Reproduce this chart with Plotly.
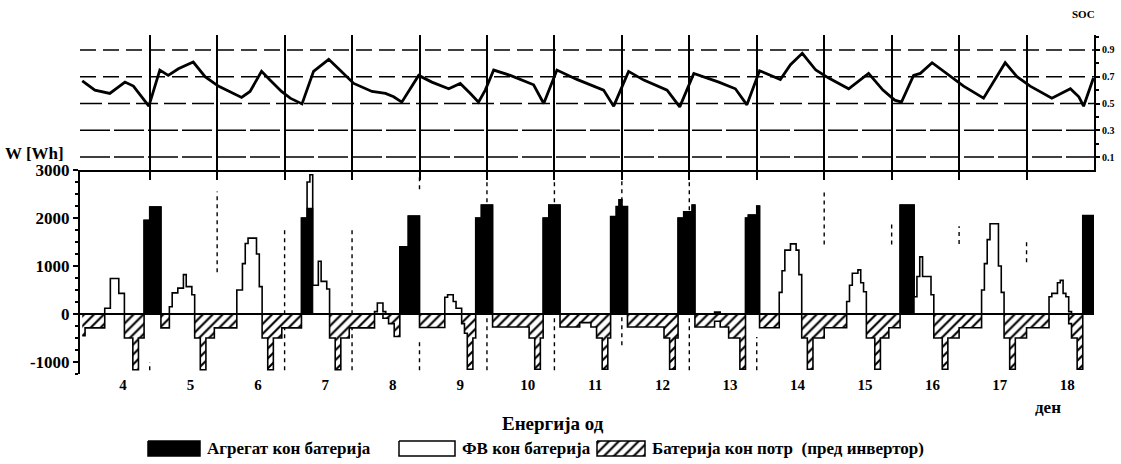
import numpy as np
import plotly.graph_objects as go

# ---------------- data ----------------
days = list(range(4, 19))
day_labels = [str(d) for d in days]
N_HOURS = 24 * len(days)

# (day, start hour, end hour, value in Wh)
gen_segments = [
    (4, 22, 24, 1950), (5, 0, 4, 2230),
    (7, 6, 8, 2000), (7, 8, 10, 2200),
    (8, 17, 20, 1400), (8, 20, 24, 2040),
    (9, 20, 22, 2000), (9, 22, 24, 2270), (10, 0, 2, 2270),
    (10, 20, 22, 2000), (10, 22, 24, 2270), (11, 0, 2, 2270),
    (11, 20, 22, 2030), (11, 22, 23, 2240), (11, 23, 24, 2380), (12, 0, 2, 2240),
    (12, 20, 22, 2000), (12, 22, 24, 2130), (13, 0, 1, 2130), (13, 1, 2, 2270),
    (13, 20, 21, 2000), (13, 21, 24, 2060), (14, 0, 1, 2250),
    (16, 3, 8, 2270),
    (18, 20, 24, 2050),
]
pv_segments = [
    (4, 8, 10, 120), (4, 10, 13, 740), (4, 13, 15, 430),
    (5, 7, 8, 150), (5, 8, 10, 440), (5, 10, 12, 540), (5, 12, 13, 820), (5, 13, 15, 570), (5, 15, 16, 400),
    (6, 7, 9, 500), (6, 9, 10, 1050), (6, 10, 11, 1470), (6, 11, 14, 1580), (6, 14, 15, 1250), (6, 15, 16, 570),
    (7, 8, 9, 550), (7, 9, 10, 700), (7, 10, 12, 600), (7, 12, 13, 1100), (7, 13, 15, 680), (7, 15, 16, 520),
    (8, 8, 9, 50), (8, 9, 11, 230), (8, 11, 12, 50),
    (9, 9, 10, 350), (9, 10, 12, 400), (9, 12, 13, 260), (9, 13, 15, 120),
    (13, 9, 11, 40),
    (14, 8, 9, 450), (14, 9, 10, 900), (14, 10, 12, 1330), (14, 12, 14, 1460), (14, 14, 15, 1330), (14, 15, 16, 820),
    (15, 8, 9, 260), (15, 9, 10, 600), (15, 10, 12, 850), (15, 12, 13, 920), (15, 13, 14, 650), (15, 14, 15, 465),
    (16, 8, 9, 360), (16, 9, 10, 780), (16, 10, 11, 1190), (16, 11, 14, 780), (16, 14, 15, 400),
    (17, 8, 9, 500), (17, 9, 10, 1050), (17, 10, 11, 1550), (17, 11, 14, 1880), (17, 14, 15, 1000), (17, 15, 16, 450),
    (18, 8, 9, 360), (18, 9, 11, 430), (18, 11, 12, 650), (18, 12, 13, 700), (18, 13, 14, 430), (18, 14, 15, 360), (18, 15, 16, 50),
]
load_segments = [
    (4, 0, 1, -450), (4, 1, 8, -290), (4, 15, 18, -500), (4, 18, 20, -1160), (4, 20, 22, -500),
    (5, 4, 7, -290), (5, 16, 18, -500), (5, 18, 20, -1160), (5, 20, 23, -500), (5, 23, 24, -290),
    (6, 0, 7, -290), (6, 16, 18, -500), (6, 18, 20, -1160), (6, 20, 23, -500), (6, 23, 24, -290),
    (7, 0, 6, -290), (7, 16, 18, -500), (7, 18, 20, -1160), (7, 20, 23, -500), (7, 23, 24, -290),
    (8, 0, 8, -290), (8, 11, 13, -90), (8, 13, 15, -200), (8, 15, 17, -470),
    (9, 0, 9, -280), (9, 15, 16, -200), (9, 16, 17, -400), (9, 17, 19, -1150), (9, 19, 20, -500),
    (10, 2, 15, -270), (10, 15, 17, -500), (10, 17, 19, -1150), (10, 19, 20, -500),
    (11, 2, 9, -270), (11, 9, 13, -180), (11, 13, 15, -270), (11, 15, 17, -500), (11, 17, 19, -1150), (11, 19, 20, -500),
    (12, 2, 15, -270), (12, 15, 17, -500), (12, 17, 19, -1150), (12, 19, 20, -500),
    (13, 2, 9, -270), (13, 9, 11, -150), (13, 11, 14, -270), (13, 14, 18, -500), (13, 18, 20, -1150),
    (14, 1, 8, -285), (14, 16, 18, -500), (14, 18, 20, -1150), (14, 20, 24, -500),
    (15, 0, 8, -285), (15, 15, 18, -500), (15, 18, 20, -1150), (15, 20, 23, -500), (15, 23, 24, -285),
    (16, 0, 3, -285), (16, 15, 18, -500), (16, 18, 20, -1150), (16, 20, 24, -500),
    (17, 0, 8, -285), (17, 16, 18, -500), (17, 18, 20, -1150), (17, 20, 24, -500),
    (18, 0, 8, -285), (18, 15, 16, -200), (18, 16, 18, -500), (18, 18, 20, -1150),
]

# battery state of charge, hours counted from day 4 00:00
soc_hours = [0, 4.5, 9.8, 15.2, 18.2, 21.7, 23.7, 25.3, 27.6, 30.6, 34.2, 39.5, 43.7, 48.4,
             56.7, 59.7, 63.8, 66.8, 70.9, 74, 78.2, 82.3, 87.7, 91.2, 96.6, 103.1, 107.9,
             110.8, 113.7, 119.7, 124.4, 130.4, 134.5, 138.1, 141, 143.4, 146.4, 152.3,
             160.6, 164.2, 168.9, 176, 185.5, 189.1, 194.4, 199.8, 208.1, 212.6, 217.6,
             226.5, 232.4, 236.5, 241, 248.4, 252, 256.2, 261, 265.6, 272.7, 279.8, 284.9,
             289.1, 291.5, 295.8, 298.2, 302.4, 308.9, 313.6, 320.7, 328.4, 332.6, 337.3,
             345, 351.6, 354.6, 356.3, 359.8]
soc_values = [0.67, 0.60, 0.575, 0.66, 0.63, 0.53, 0.48, 0.59, 0.75, 0.71, 0.76, 0.81, 0.70, 0.63,
              0.545, 0.59, 0.74, 0.675, 0.59, 0.54, 0.497, 0.74, 0.83, 0.76, 0.65, 0.59, 0.575,
              0.55, 0.51, 0.71, 0.66, 0.61, 0.65, 0.575, 0.51, 0.60, 0.75, 0.71,
              0.64, 0.50, 0.75, 0.68, 0.60, 0.48, 0.74, 0.675, 0.60, 0.475, 0.725,
              0.66, 0.61, 0.49, 0.745, 0.68, 0.79, 0.875, 0.75, 0.69, 0.61, 0.725, 0.60,
              0.525, 0.51, 0.71, 0.725, 0.805, 0.70, 0.63, 0.54, 0.805, 0.70, 0.63,
              0.54, 0.61, 0.55, 0.48, 0.69]

soc_ticks = [0.1, 0.3, 0.5, 0.7, 0.9]
soc_ticktext = ["0.1", "0.3", "0.5", "0.7", "0.9"]
soc_line_dash = ["30px,4px", "30px,4px", "22px,6px", "16px,7px", "16px,7px"]
w_ticks = [-1000, 0, 1000, 2000, 3000]
w_ticktext = ["-1000", "0", "1000", "2000", "3000"]

# broken dashed day-separator fragments in the lower panel (hour, top, bottom)
frag_hour = [24, 48, 72, 96, 120, 120, 144, 168, 192, 216, 240, 264, 288, 312, 336]
frag_top = [-1000, 2550, 1800, 1750, 2900, -550, 2900, 2800, 2900, 2900, -480, 2600, 1950, 1830, 1540]
frag_bot = [-1170, 870, -1170, -1170, 2600, -1170, -1170, -1170, -650, -1170, -1170, 1450, 1450, 1460, 1080]

legend_names = ["Агрегат кон батерија", "ФВ кон батерија", "Батерија кон потр  (пред инвертор)"]


def to_hourly(segments):
    arr = np.zeros(N_HOURS)
    for day, h0, h1, v in segments:
        base = 24 * (day - days[0])
        arr[base + h0: base + h1] = v
    return arr


gen = to_hourly(gen_segments)
pv = to_hourly(pv_segments)
load = to_hourly(load_segments)
pv_total = gen + pv

edges = np.arange(N_HOURS + 1)


def step(arr):
    return np.append(arr, arr[-1])


# ---------------- figure ----------------
W, H = 1121, 464
L, R = 80, 27
XR = [-0.8, N_HOURS]
FONT = "Liberation Serif"


def px(x):
    return (x - L) / (W - L - R)


def py(y):
    return (H - y) / H


fig = go.Figure()

fig.add_trace(go.Scatter(
    x=edges, y=step(load), mode="lines", line=dict(shape="hv", color="black", width=1.6),
    fill="tozeroy", fillcolor="white",
    fillpattern=dict(shape="/", fgcolor="black", bgcolor="white", size=7, solidity=0.3),
    xaxis="x", yaxis="y", showlegend=False, hoverinfo="skip"))
fig.add_trace(go.Scatter(
    x=edges, y=step(pv_total), mode="lines", line=dict(shape="hv", color="black", width=1.6),
    fill="tozeroy", fillcolor="white", xaxis="x", yaxis="y", showlegend=False, hoverinfo="skip"))
fig.add_trace(go.Scatter(
    x=edges, y=step(gen), mode="lines", line=dict(shape="hv", color="black", width=1.2),
    fill="tozeroy", fillcolor="black", xaxis="x", yaxis="y", showlegend=False, hoverinfo="skip"))

fig.add_trace(go.Scatter(
    x=soc_hours, y=soc_values, mode="lines", line=dict(color="black", width=2.8),
    xaxis="x2", yaxis="y2", showlegend=False, hoverinfo="skip"))

# manual legend swatches on an overlay pixel axis
sw_x = [(148, 200), (399, 455), (597, 645)]
sw_y = (441, 456)
fills = [dict(fillcolor="black"), dict(fillcolor="white"),
         dict(fillcolor="white", fillpattern=dict(shape="/", fgcolor="black", bgcolor="white", size=7, solidity=0.3))]
for (x0, x1), f in zip(sw_x, fills):
    fig.add_trace(go.Scatter(
        x=[x0, x1, x1, x0, x0], y=[sw_y[0], sw_y[0], sw_y[1], sw_y[1], sw_y[0]],
        mode="lines", fill="toself", line=dict(color="black", width=1.5),
        xaxis="x3", yaxis="y3", showlegend=False, hoverinfo="skip", **f))

y_bottom_dom = [(H - 374) / H, (H - 170) / H]
y_top_dom = [(H - 170) / H, (H - 35) / H]

fig.update_layout(
    width=W, height=H, margin=dict(l=L, r=R, t=0, b=0),
    template="none", paper_bgcolor="white", plot_bgcolor="rgba(0,0,0,0)",
    font=dict(family=FONT, color="black"), showlegend=False,
    xaxis=dict(domain=[0, 1], range=XR, anchor="y",
               tickvals=[24 * i + 14.5 for i in range(len(days))], ticktext=day_labels,
               tickfont=dict(size=15, family=FONT, weight="bold"),
               showline=False, ticks="", showgrid=False, zeroline=False),
    yaxis=dict(domain=y_bottom_dom, range=[-1250, 3000], anchor="x",
               tickvals=w_ticks, ticktext=w_ticktext,
               tickfont=dict(size=17, family=FONT, weight="bold"),
               ticks="outside", ticklen=5, tickwidth=1.5, tickcolor="black",
               minor=dict(ticks="outside", ticklen=3, dtick=250, tickcolor="black"),
               showline=True, linewidth=2, linecolor="black",
               showgrid=False, zeroline=False),
    xaxis2=dict(domain=[0, 1], range=XR, anchor="y2",
                tickvals=[24 * i for i in range(1, len(days))], showticklabels=False,
                ticks="outside", ticklen=8, tickwidth=1.5, tickcolor="black",
                showgrid=True, gridcolor="black", gridwidth=1.6,
                showline=True, linewidth=2, linecolor="black", zeroline=False),
    yaxis2=dict(domain=y_top_dom, range=[0.0028, 1.0121], anchor="x2", side="right",
                tickvals=soc_ticks, ticktext=soc_ticktext,
                tickfont=dict(size=10, family=FONT, weight="bold"),
                ticks="outside", ticklen=4, tickcolor="black", tickwidth=1.5,
                minor=dict(ticks="outside", ticklen=3, dtick=0.1, tickcolor="black"),
                showline=True, linewidth=2, linecolor="black", showgrid=False, zeroline=False),
    xaxis3=dict(domain=[0, 1], range=[L, W - R], anchor="y3", visible=False),
    yaxis3=dict(domain=[0, 1], range=[H, 0], anchor="x3", visible=False),
)

shapes = []
for v, d in zip(soc_ticks, soc_line_dash):
    shapes.append(dict(type="line", xref="x2", yref="y2", x0=XR[0], x1=XR[1], y0=v, y1=v,
                       line=dict(color="black", width=1.6, dash=d), layer="below"))
for hx, t, b in zip(frag_hour, frag_top, frag_bot):
    shapes.append(dict(type="line", xref="x", yref="y", x0=hx, x1=hx, y0=b, y1=t,
                       line=dict(color="black", width=1.4, dash="4px,4px"), layer="below"))
shapes.append(dict(type="line", xref="x", yref="y", x0=XR[0], x1=XR[1], y0=0, y1=0,
                   line=dict(color="black", width=1.8), layer="above"))
fig.update_layout(shapes=shapes)

ann = [
    dict(text="<b>W [Wh]</b>", x=px(3), y=py(153), xanchor="left", yanchor="middle", size=17),
    dict(text="<b>SOC</b>", x=px(1083), y=py(14), xanchor="center", yanchor="middle", size=11),
    dict(text="<b>Енергија од</b>", x=px(553), y=py(423), xanchor="center", yanchor="middle", size=19),
    dict(text="<b>ден</b>", x=px(1048), y=py(407), xanchor="center", yanchor="middle", size=17),
    dict(text="<b>" + legend_names[0] + "</b>", x=px(205), y=py(448), xanchor="left", yanchor="middle", size=17),
    dict(text="<b>" + legend_names[1] + "</b>", x=px(460), y=py(448), xanchor="left", yanchor="middle", size=17),
    dict(text="<b>" + legend_names[2] + "</b>", x=px(650), y=py(448), xanchor="left", yanchor="middle", size=17),
]
fig.update_layout(annotations=[
    dict(text=a["text"], x=a["x"], y=a["y"], xref="paper", yref="paper",
         xanchor=a["xanchor"], yanchor=a["yanchor"], showarrow=False,
         font=dict(family=FONT, size=a["size"], color="black")) for a in ann])

fig.write_html("out.html", config={"displayModeBar": False},
               post_script="document.body.style.margin='0px';")
